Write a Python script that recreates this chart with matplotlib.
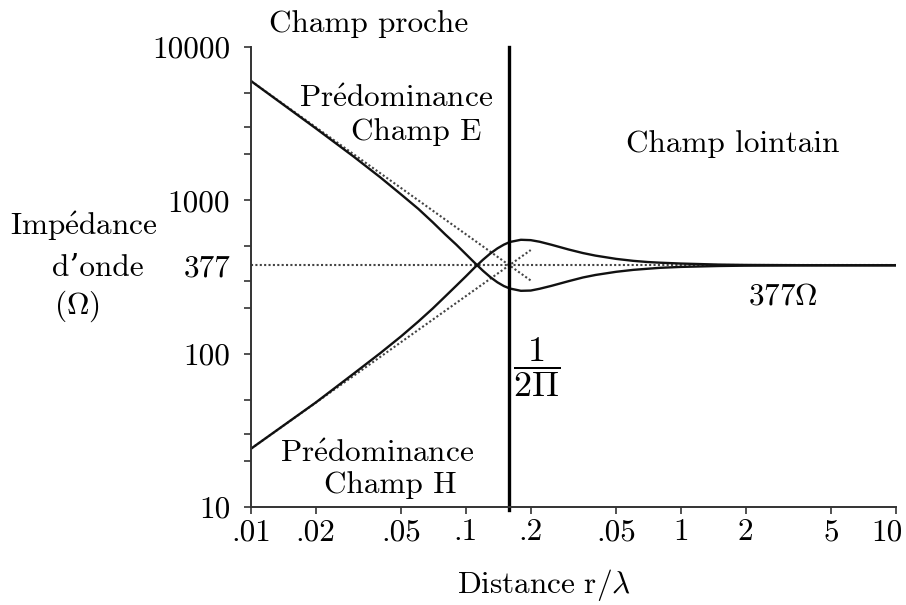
import matplotlib
matplotlib.use("Agg")
import matplotlib.pyplot as plt
import matplotlib.transforms as mtransforms
from matplotlib.ticker import FixedLocator, NullFormatter

plt.rcParams['font.family'] = ['cmr10', 'DejaVu Serif']
plt.rcParams['mathtext.fontset'] = 'cm'
plt.rcParams['axes.unicode_minus'] = False
plt.rcParams['axes.formatter.use_mathtext'] = True

# ---- data ----
r_lambda = [0.01, 0.02, 0.03, 0.04, 0.05, 0.06, 0.07, 0.08, 0.09, 0.10, 0.11, 0.12,
            0.13, 0.14, 0.15, 0.16, 0.18, 0.20, 0.22, 0.25, 0.30, 0.35, 0.40, 0.50,
            0.60, 0.70, 0.80, 1.0, 1.5, 2.0, 3.0, 5.0, 10.0]
z_e = [6000, 2950, 1930, 1410, 1090, 880, 720, 600, 515, 445, 390, 347,
       315, 292, 276, 266, 257, 258, 265, 277, 297, 314, 326, 342,
       352, 358, 363, 368, 373, 375, 376, 377, 377]
z_h = [24, 48, 74, 101, 130, 162, 197, 236, 277, 320, 366, 410,
       451, 486, 514, 535, 553, 550, 537, 513, 478, 453, 436, 415,
       403, 396, 392, 387, 381, 379, 378, 377, 377]

asym_r = [0.01, 0.2]
asym_e = [6000, 300]
asym_h = [24, 474]
free_r = [0.01, 10]
free_z = [377, 377]
boundary = 0.159

xticks = [0.01, 0.02, 0.05, 0.1, 0.2, 0.5, 1, 2, 5, 10]
xticklabels = ['.01', '.02', '.05', '.1', '.2', '.05', '1', '2', '5', '10']
yticks = [10, 100, 377, 1000, 10000]
yticklabels = ['10', '100', '377', '1000', '10000']
yminor = [20, 30, 50, 200, 300, 500, 2000, 3000, 5000]

W, H = 906, 605
fig = plt.figure(figsize=(W / 100, H / 100), dpi=100)
ax = fig.add_axes([251 / W, 1 - 507 / H, (896 - 251) / W, (507 - 47) / H])
ax.set_xscale('log')
ax.set_yscale('log')
ax.set_xlim(0.01, 10)
ax.set_ylim(10, 10000)

dot_col = '#444444'
ax.plot(free_r, free_z, linestyle=(0, (1, 1.1)), color=dot_col, lw=1.5)
ax.plot(asym_r, asym_e, linestyle=(0, (1, 1.1)), color=dot_col, lw=1.5)
ax.plot(asym_r, asym_h, linestyle=(0, (1, 1.1)), color=dot_col, lw=1.5)
ax.plot(r_lambda, z_e, color='#111111', lw=1.7)
ax.plot(r_lambda, z_h, color='#111111', lw=1.7)
ax.plot([boundary, boundary], [9.6, 10000], color='black', lw=2.4, clip_on=False)

for s in ['top', 'right']:
    ax.spines[s].set_visible(False)
for s in ['left', 'bottom']:
    ax.spines[s].set_color('#333333')
    ax.spines[s].set_linewidth(1.4)

fs = 22.5
ax.xaxis.set_major_locator(FixedLocator(xticks))
ax.xaxis.set_minor_locator(FixedLocator([]))
ax.set_xticklabels(xticklabels, fontsize=fs)
ax.yaxis.set_major_locator(FixedLocator(yticks))
ax.yaxis.set_minor_locator(FixedLocator(yminor))
ax.yaxis.set_minor_formatter(NullFormatter())
ax.set_yticklabels(yticklabels, fontsize=fs)
ax.tick_params(axis='both', which='both', direction='out', length=5, width=1.2,
               color='#333333')
ax.tick_params(axis='x', pad=3)
ax.tick_params(axis='y', pad=10)
ax.yaxis.get_major_ticks()[2].tick1line.set_visible(False)
last = ax.get_xticklabels()[-1]
last.set_transform(last.get_transform() +
                   mtransforms.ScaledTranslation(-9 / 100, 0, fig.dpi_scale_trans))

# in-plot text
ax.text(0.0354, 14100, 'Champ proche', fontsize=fs, ha='center', va='center')
ax.text(0.0472, 4570, r'$\mathrm{Pr\acute{e}dominance}$', fontsize=fs, ha='center', va='center')
ax.text(0.0585, 2780, 'Champ E', fontsize=fs, ha='center', va='center')
ax.text(1.746, 2323, 'Champ lointain', fontsize=fs, ha='center', va='center')
ax.text(2.98, 236, r'$377\Omega$', fontsize=fs, ha='center', va='center')
ax.text(0.212, 82, r'$\dfrac{1}{2\Pi}$', fontsize=26, ha='center', va='center')
ax.text(0.0385, 22.2, r'$\mathrm{Pr\acute{e}dominance}$', fontsize=fs, ha='center', va='center')
ax.text(0.0443, 13.9, 'Champ H', fontsize=fs, ha='center', va='center')

# outside labels
fig.text(84 / W, 1 - 226 / H, r'$\mathrm{Imp\acute{e}dance}$', fontsize=fs, ha='center', va='center')
fig.text(98 / W, 1 - 268 / H, 'd\u2019onde', fontsize=fs, ha='center', va='center')
fig.text(77 / W, 1 - 306 / H, r'$(\Omega)$', fontsize=fs, ha='center', va='center')
fig.text(544 / W, 1 - 585 / H, r'$\mathrm{Distance\ r}/\lambda$', fontsize=fs, ha='center', va='center')

fig.savefig('out.png', dpi=100)
